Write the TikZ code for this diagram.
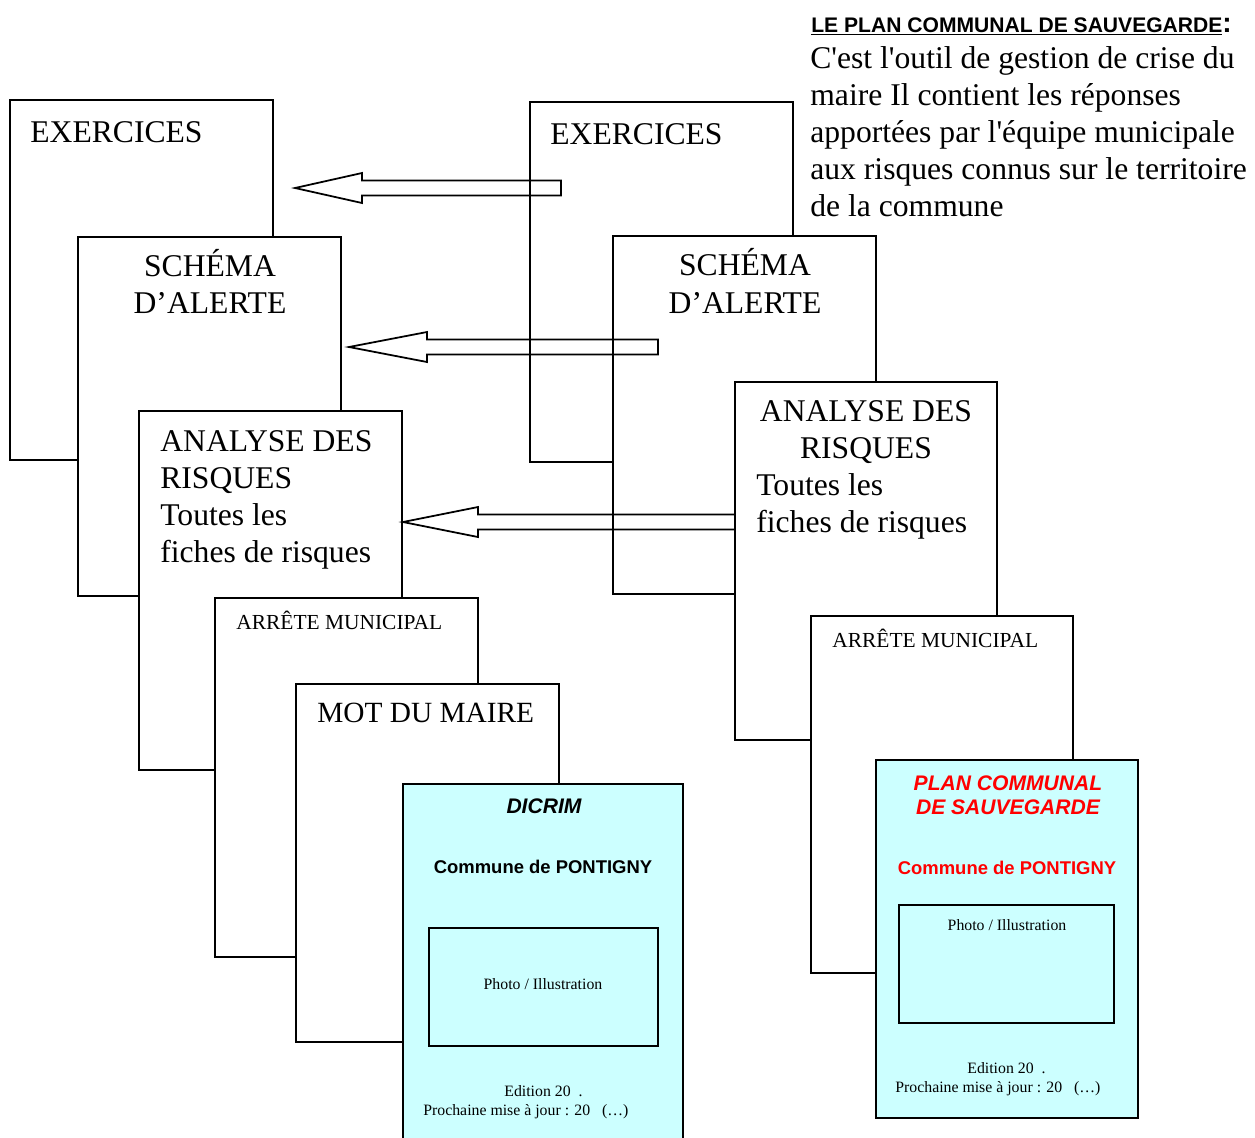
\documentclass[tikz,border=0pt]{standalone}
\usepackage{fontspec}
\setmainfont{Liberation Serif}
\newfontfamily\arialfont{Liberation Sans}
\usepackage{tikz}
\definecolor{coverblue}{HTML}{CCFFFF}
\definecolor{pcsred}{HTML}{FF0000}
\tikzset{
  sheet/.style={draw, fill=white, line width=1pt},
  coversheet/.style={draw, fill=coverblue, line width=1pt},
  photobox/.style={draw, line width=1pt},
  blockarrow/.style={draw, line width=1pt, line join=miter},
  bigtext/.style={font=\fontsize{18}{21}\selectfont, inner sep=0pt, anchor=base west},
  bigcentre/.style={bigtext, anchor=base},
  smalltext/.style={font=\fontsize{12.2}{14}\selectfont, inner sep=0pt, anchor=base west},
  covertitle/.style={font=\arialfont\bfseries\itshape\fontsize{12}{14}\selectfont, inner sep=0pt, anchor=base},
  covertown/.style={font=\arialfont\bfseries\fontsize{10.5}{12}\selectfont, inner sep=0pt, anchor=base},
  coverinfo/.style={font=\fontsize{9}{11}\selectfont, inner sep=0pt, anchor=base west},
}
% block arrow: tip x, head base x, tail x, y
\newcommand{\bigarrow}[4]{%
  \draw[blockarrow] (#1,#4) -- (#2,#4-15) -- (#2,#4-7.5) -- (#3,#4-7.5)
    -- (#3,#4+7.5) -- (#2,#4+7.5) -- (#2,#4+15) -- cycle;}

\begin{document}
\begin{tikzpicture}[x=0.02cm, y=-0.02cm]
  \clip (0,0) rectangle (1255,1137);

  % Heading and description
  \node[inner sep=0pt, anchor=base west, font=\arialfont\bfseries\fontsize{12}{14}\selectfont] (head) at (811,32)
    {\underline{LE PLAN COMMUNAL DE SAUVEGARDE}{\fontsize{16}{16}\selectfont :}};
  % base of a multi-line node is its last line
  \node[bigtext, align=left] (descr) at (810,216)
    {C\textquotesingle est l\textquotesingle outil de gestion de crise du\\
     maire Il contient les réponses\\
     apportées par l\textquotesingle équipe municipale\\
     aux risques connus sur le territoire\\
     de la commune};

  % Left stack (DICRIM)
  \draw[sheet] (10,100) rectangle (273,460);
  \node[bigtext] (exoL) at (30,142) {EXERCICES};

  \draw[sheet] (78,237) rectangle (341,596);
  \node[bigcentre] (alertL) at (210,276) {SCHÉMA};
  \node[bigcentre] (alertLb) at (210,313) {D’ALERTE};

  \draw[sheet] (139,411) rectangle (402,770);
  \node[bigtext] (riskL) at (160,451) {ANALYSE DES};
  \node[bigtext] (riskLb) at (160,488) {RISQUES};
  \node[bigtext] (riskLc) at (160,525) {Toutes les};
  \node[bigtext] (riskLd) at (160,562) {fiches de risques};

  \draw[sheet] (215,598) rectangle (478,957);
  \node[smalltext] (arrL) at (236,629) {ARRÊTE MUNICIPAL};

  \draw[sheet] (296,684) rectangle (559,1042);
  \node[bigtext, font=\fontsize{16.7}{20}\selectfont] (mot) at (317,722) {MOT DU MAIRE};

  \draw[coversheet] (403,784) rectangle (683,1160);
  \node[covertitle] (dicrim) at (544,813) {DICRIM};
  \node[covertown] (townL) at (543,873) {Commune de PONTIGNY};
  \draw[photobox] (429,928) rectangle (658,1046);
  \node[coverinfo, anchor=base] (photoL) at (543,989) {Photo / Illustration};
  \node[coverinfo] (editL) at (504,1096) {Edition 20\ \ .};
  \node[coverinfo] (nextL) at (423,1115) {Prochaine mise à jour : 20\ \ \ (…)};

  % Right stack (PCS)
  \draw[sheet] (530,102) rectangle (793,462);
  \node[bigtext] (exoR) at (550,144) {EXERCICES};

  \draw[sheet] (613,236) rectangle (876,594);
  \node[bigcentre] (alertR) at (745,275) {SCHÉMA};
  \node[bigcentre] (alertRb) at (745,313) {D’ALERTE};

  \draw[sheet] (735,382) rectangle (997,740);
  \node[bigcentre] (riskR) at (866,421) {ANALYSE DES};
  \node[bigcentre] (riskRb) at (866,458) {RISQUES};
  \node[bigtext] (riskRc) at (756,495) {Toutes les};
  \node[bigtext] (riskRd) at (756,532) {fiches de risques};

  \draw[sheet] (811,616) rectangle (1073,973);
  \node[smalltext] (arrR) at (832,647) {ARRÊTE MUNICIPAL};

  \draw[coversheet] (876,760) rectangle (1138,1118);
  \node[covertitle, text=pcsred] (pcs) at (1008,790) {PLAN COMMUNAL};
  \node[covertitle, text=pcsred] (pcsb) at (1008,814) {DE SAUVEGARDE};
  \node[covertown, text=pcsred] (townR) at (1007,874) {Commune de PONTIGNY};
  \draw[photobox] (899,905) rectangle (1114,1023);
  \node[coverinfo, anchor=base] (photoR) at (1007,930) {Photo / Illustration};
  \node[coverinfo] (editR) at (967,1073) {Edition 20\ \ .};
  \node[coverinfo] (nextR) at (895,1092) {Prochaine mise à jour : 20\ \ \ (…)};

  % Arrows from right stack to left stack
  \bigarrow{295}{362}{561}{188}
  \bigarrow{349}{427}{658}{347}
  \bigarrow{403}{478}{735}{522}
\end{tikzpicture}
\end{document}
